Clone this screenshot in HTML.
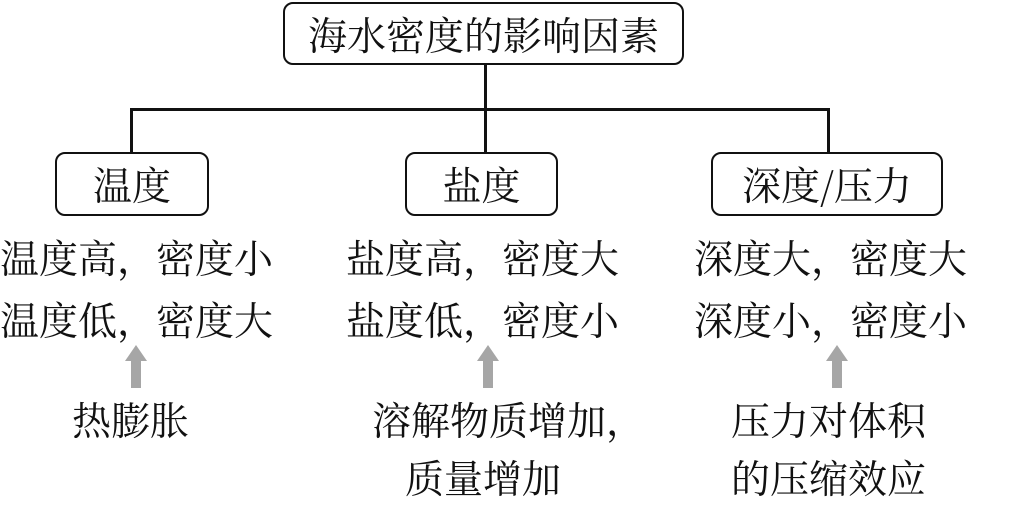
<!DOCTYPE html>
<html><head><meta charset="utf-8"><style>
body{margin:0;width:1024px;height:500px;background:#fff;position:relative;overflow:hidden;font-family:"Noto Serif CJK SC","Liberation Serif",serif;color:#111}
.b{position:absolute;border:2.5px solid #111;border-radius:10px;box-sizing:border-box;display:flex;align-items:center;justify-content:center;font-size:39px}
.t{position:absolute;font-size:39px;line-height:42px;white-space:nowrap}
.l{position:absolute;background:#111}
.ar{position:absolute;width:0;height:0;border-left:11px solid transparent;border-right:11px solid transparent;border-bottom:16px solid #a6a6a6}
.as{position:absolute;width:10px;height:28px;background:#a6a6a6}
</style></head><body>
<div class="b" style="left:283px;top:2px;width:401px;height:63px">海水密度的影响因素</div>
<div class="l" style="left:484px;top:64px;width:2.5px;height:89px"></div>
<div class="l" style="left:130px;top:108px;width:700px;height:2.5px"></div>
<div class="l" style="left:130px;top:108px;width:2.5px;height:45px"></div>
<div class="l" style="left:827px;top:108px;width:2.5px;height:45px"></div>
<div class="b" style="left:55px;top:152px;width:154px;height:64px">温度</div>
<div class="b" style="left:405px;top:152px;width:153px;height:64px">盐度</div>
<div class="b" style="left:711px;top:152px;width:232px;height:64px">深度/压力</div>
<div class="t" style="left:0;top:236px">温度高，密度小</div>
<div class="t" style="left:0;top:298px">温度低，密度大</div>
<div class="t" style="left:346px;top:236px">盐度高，密度大</div>
<div class="t" style="left:346px;top:298px">盐度低，密度小</div>
<div class="t" style="left:694px;top:236px">深度大，密度大</div>
<div class="t" style="left:694px;top:298px">深度小，密度小</div>
<div class="ar" style="left:125px;top:345px"></div><div class="as" style="left:131px;top:360px"></div>
<div class="ar" style="left:477px;top:345px"></div><div class="as" style="left:483px;top:360px"></div>
<div class="ar" style="left:826px;top:345px"></div><div class="as" style="left:832px;top:360px"></div>
<div class="t" style="left:72px;top:398px">热膨胀</div>
<div class="t" style="left:372px;top:398px">溶解物质增加，</div>
<div class="t" style="left:405px;top:456px">质量增加</div>
<div class="t" style="left:731px;top:398px">压力对体积</div>
<div class="t" style="left:731px;top:456px">的压缩效应</div>
</body></html>
